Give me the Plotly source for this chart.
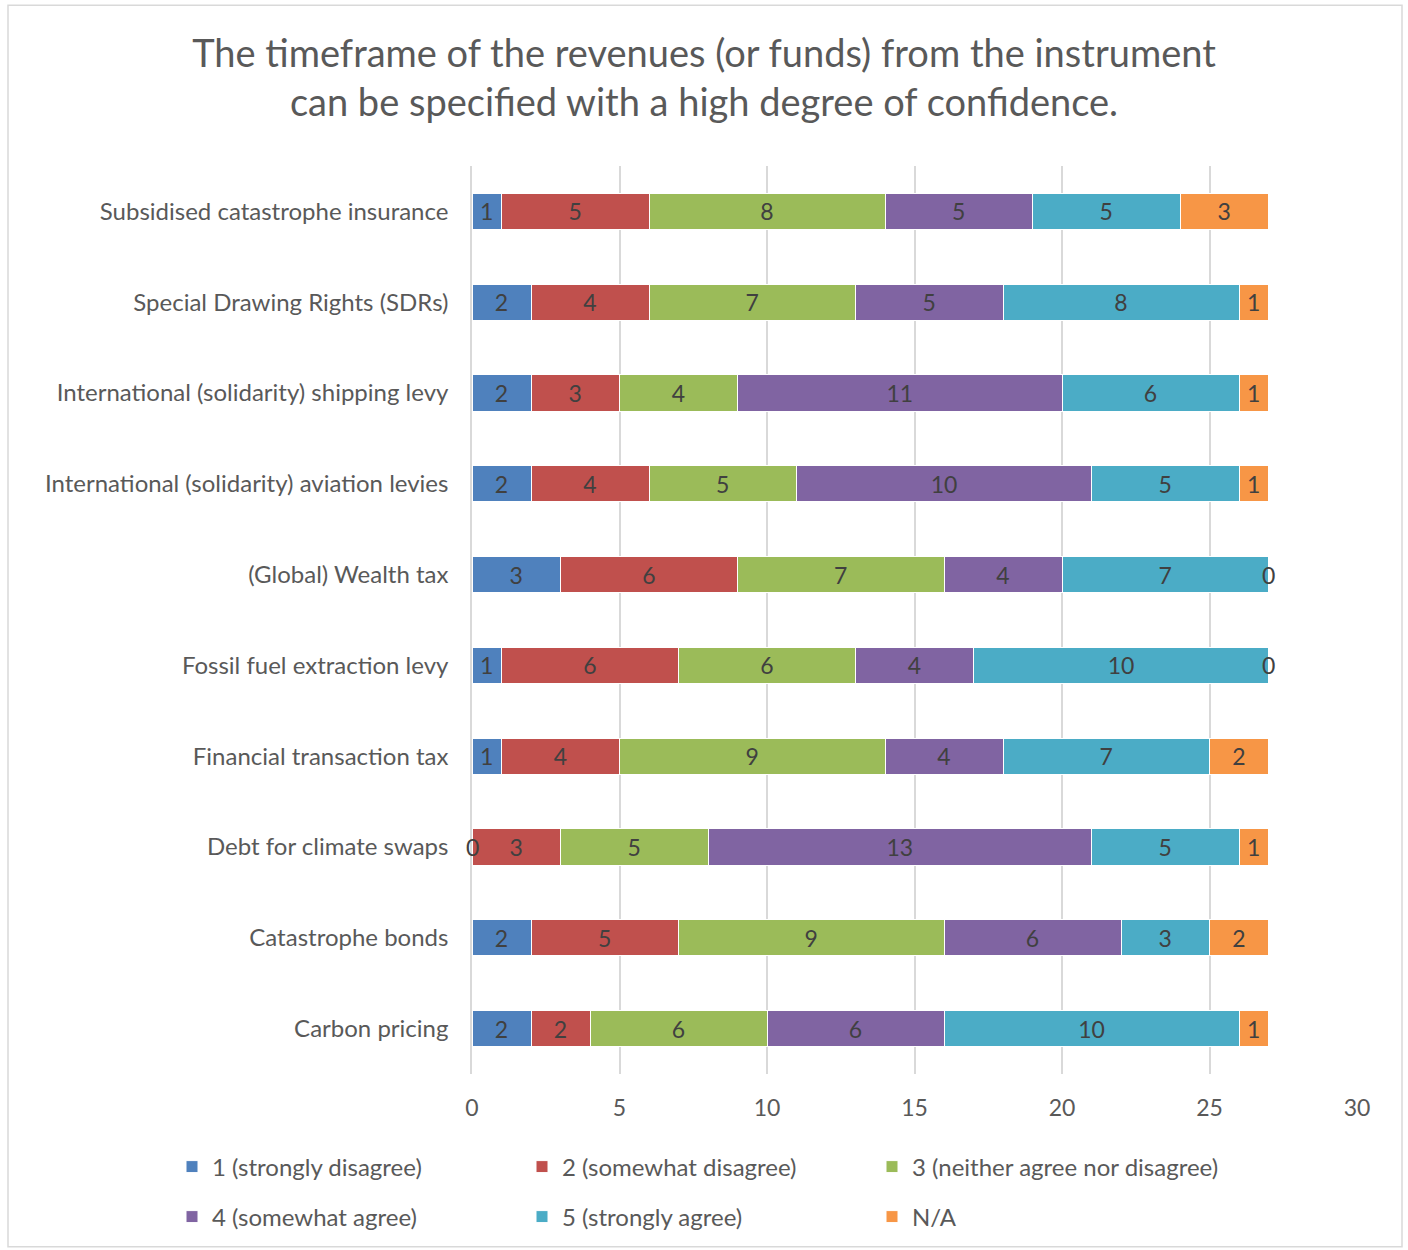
import plotly.graph_objects as go
import numpy as np

categories = [
    "Carbon pricing",
    "Catastrophe bonds",
    "Debt for climate swaps",
    "Financial transaction tax",
    "Fossil fuel extraction levy",
    "(Global) Wealth tax",
    "International (solidarity) aviation levies",
    "International (solidarity) shipping levy",
    "Special Drawing Rights (SDRs)",
    "Subsidised catastrophe insurance",
]
strongly_disagree = [2, 2, 0, 1, 1, 3, 2, 2, 2, 1]
somewhat_disagree = [2, 5, 3, 4, 6, 6, 4, 3, 4, 5]
neither = [6, 9, 5, 9, 6, 7, 5, 4, 7, 8]
somewhat_agree = [6, 6, 13, 4, 4, 4, 10, 11, 5, 5]
strongly_agree = [10, 3, 5, 7, 10, 7, 5, 6, 8, 5]
na = [1, 2, 1, 2, 0, 0, 1, 1, 1, 3]

series_names = ["1 (strongly disagree)", "2 (somewhat disagree)", "3 (neither agree nor disagree)",
                "4 (somewhat agree)", "5 (strongly agree)", "N/A"]
series_values = [strongly_disagree, somewhat_disagree, neither, somewhat_agree, strongly_agree, na]
colors = ["#4F81BD", "#C0504D", "#9BBB59", "#8064A2", "#4BACC6", "#F79646"]
legend_ids = ["legend", "legend", "legend", "legend2", "legend2", "legend2"]

FONT = "Lato"
TXT = "#404040"
GREY = "#595959"

fig = go.Figure()
for name, vals, col, lg in zip(series_names, series_values, colors, legend_ids):
    fig.add_trace(go.Bar(
        y=categories, x=vals, name=name, orientation="h",
        marker=dict(color=col, line=dict(color="white", width=1)),
        text=[str(v) if v != 0 else "" for v in vals],
        textposition="inside", insidetextanchor="middle", textangle=0,
        constraintext="none",
        textfont=dict(family=FONT, size=23, color=TXT),
        cliponaxis=False, legend=lg,
    ))

# zero-value labels placed at the stack position
cum = np.zeros(len(categories))
annotations = []
for vals in series_values:
    v = np.array(vals, dtype=float)
    for i, val in enumerate(vals):
        if val == 0:
            annotations.append(dict(x=cum[i], y=categories[i], xref="x", yref="y",
                                    text="0", showarrow=False,
                                    font=dict(family=FONT, size=23, color=TXT)))
    cum += v

legend_common = dict(orientation="h", x=(172 - 472) / 885, xanchor="left", yanchor="middle",
                     entrywidth=305, entrywidthmode="pixels", traceorder="normal",
                     font=dict(family=FONT, size=24, color=GREY), itemwidth=30,
                     bgcolor="rgba(0,0,0,0)")

fig.update_layout(
    width=1408, height=1250,
    barmode="stack", bargap=0.6,
    paper_bgcolor="white", plot_bgcolor="white",
    margin=dict(l=472, r=51, t=166, b=175),
    title=dict(text="The timeframe of the revenues (or funds) from the instrument<br>can be specified with a high degree of confidence.",
               x=0.5, xref="container", xanchor="center",
               y=1 - 67 / 1250, yref="container", yanchor="middle",
               font=dict(family=FONT, size=38, color=GREY)),
    xaxis=dict(range=[0, 30], dtick=5, showgrid=True, gridcolor="#D9D9D9", gridwidth=1.5,
               zeroline=False, tickfont=dict(family=FONT, size=23, color=GREY),
               ticklabelstandoff=18, fixedrange=True),
    yaxis=dict(showline=True, linecolor="#D9D9D9", linewidth=1.5, showgrid=False,
               tickfont=dict(family=FONT, size=24, color=GREY), ticklabelstandoff=17),
    legend=dict(legend_common, y=(1075 - 1167) / 909),
    legend2=dict(legend_common, y=(1075 - 1217) / 909),
    annotations=annotations,
    showlegend=True,
)
fig.add_shape(type="rect", xref="paper", yref="paper",
              x0=(8 - 472) / 885, x1=(1402 - 472) / 885,
              y0=(1075 - 1248) / 909, y1=(1075 - 5) / 909,
              line=dict(color="#D9D9D9", width=1.5), fillcolor="rgba(0,0,0,0)", layer="below")

fig.write_html("out.html")
